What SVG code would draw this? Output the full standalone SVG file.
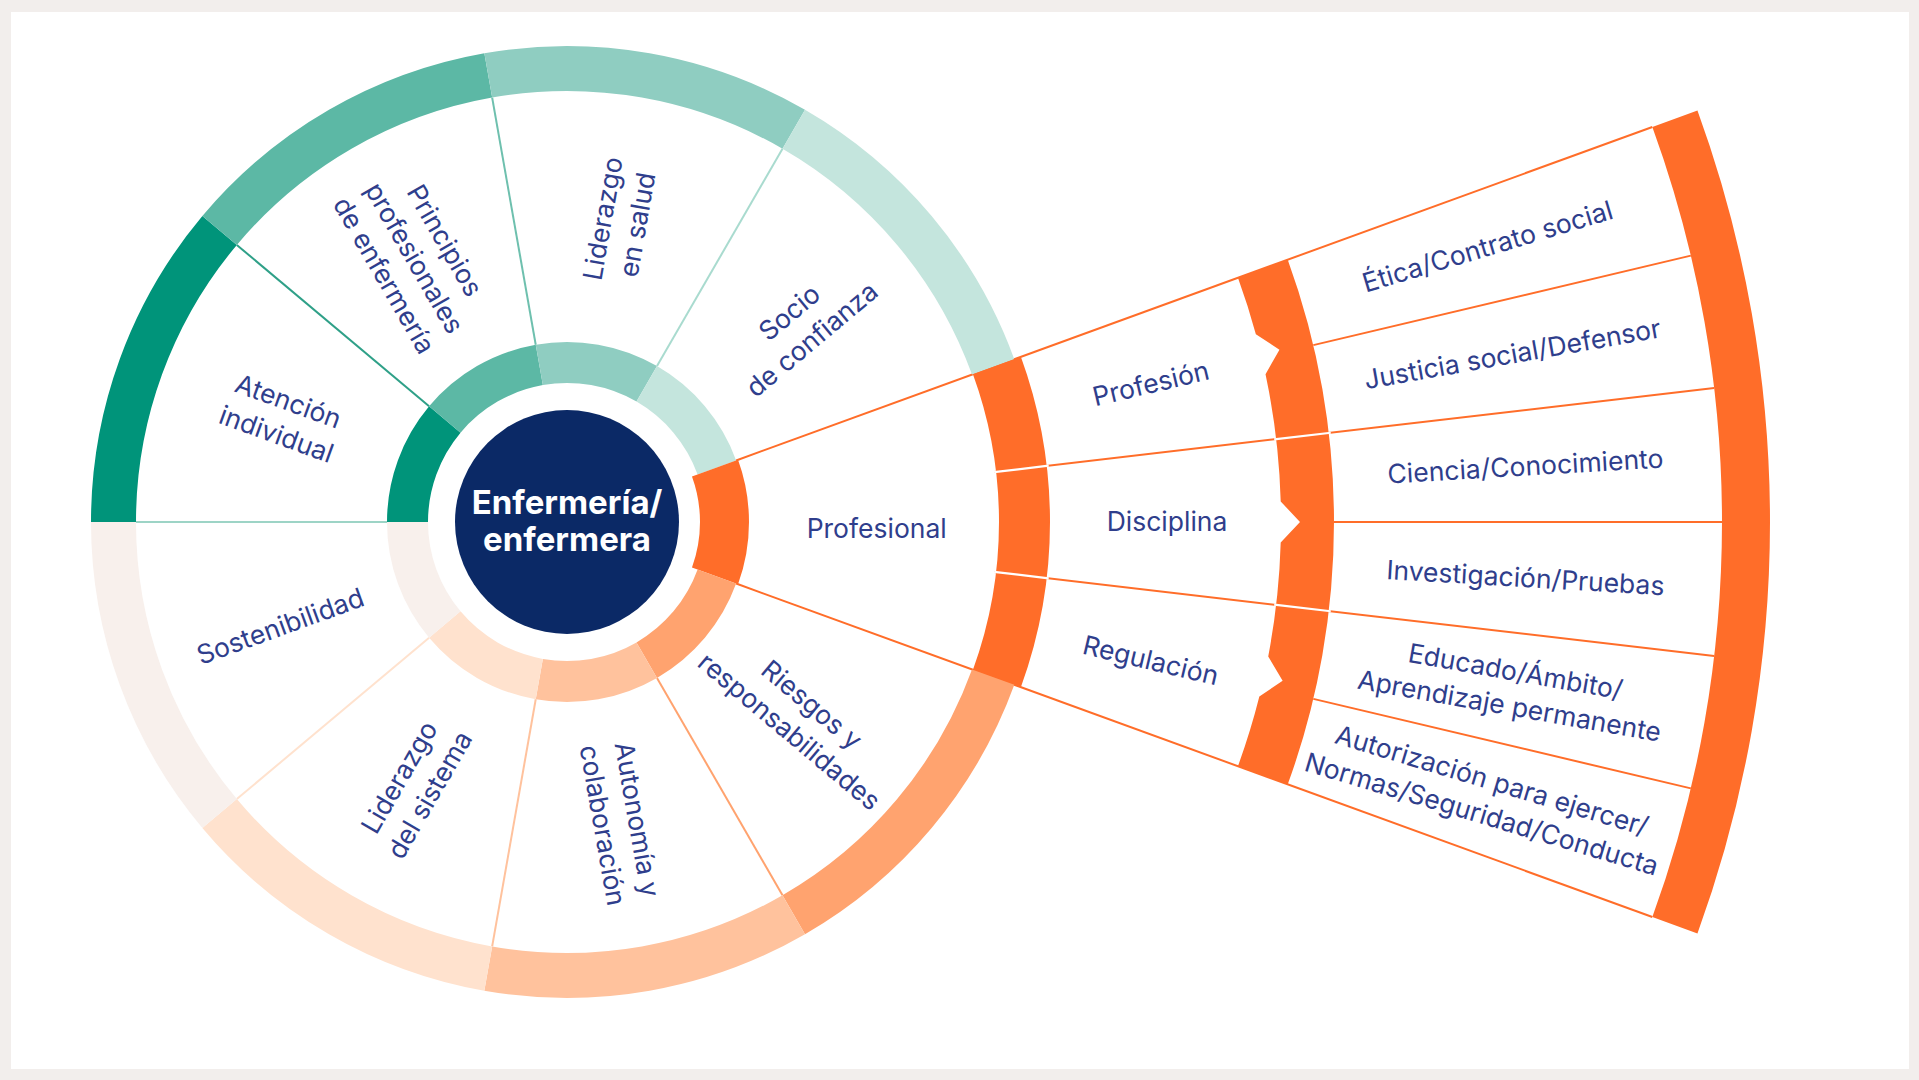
<svg xmlns="http://www.w3.org/2000/svg" width="1919" height="1080" viewBox="0 0 1919 1080">
<style>
.lbl{font-family:Inter,"Noto Sans","Liberation Sans",sans-serif;font-size:26.5px;fill:#2F3E8C;text-anchor:middle}
.ctr{font-family:Inter,"Noto Sans","Liberation Sans",sans-serif;font-size:33px;font-weight:700;fill:#FFFFFF;text-anchor:middle}
.ln{stroke-width:2;fill:none}
.gap{stroke:#FFFFFF;stroke-width:2.2;fill:none}
.or{fill:#FF6D29}
</style>
<rect x="0" y="0" width="1919" height="1080" fill="#F2EEEC"/>
<rect x="11" y="12" width="1898" height="1057" fill="#FFFFFF"/>

<g id="connectors">
<line class="ln" stroke="#FFA36F" x1="657" y1="677.88" x2="782.5" y2="895.26"/>
<line class="ln" stroke="#FFC29D" x1="535.74" y1="699.27" x2="492.16" y2="946.45"/>
<line class="ln" stroke="#FFE2CE" x1="429.11" y1="637.70" x2="236.84" y2="799.04"/>
<line class="ln" stroke="#9DD4C6" x1="387" y1="522" x2="136" y2="522"/>
<line class="ln" stroke="#2FA088" x1="429.11" y1="406.30" x2="236.84" y2="244.96"/>
<line class="ln" stroke="#6EC0AE" x1="535.74" y1="344.73" x2="492.16" y2="97.55"/>
<line class="ln" stroke="#A9DBCF" x1="657" y1="366.12" x2="782.5" y2="148.74"/>
<line class="ln" stroke="#FF6D29" x1="736.14" y1="460.44" x2="1652.34" y2="126.97"/>
<line class="ln" stroke="#FF6D29" x1="736.14" y1="583.56" x2="1652.34" y2="917.03"/>
<line class="ln" stroke="#FF6D29" x1="994.09" y1="472.08" x2="1714.19" y2="387.92"/>
<line class="ln" stroke="#FF6D29" x1="994.09" y1="571.92" x2="1714.19" y2="656.08"/>
<line class="ln" stroke="#FF6D29" x1="1313.32" y1="345.11" x2="1690.86" y2="255.63"/>
<line class="ln" stroke="#FF6D29" x1="1334" y1="522" x2="1722" y2="522"/>
<line class="ln" stroke="#FF6D29" x1="1313.32" y1="698.89" x2="1690.86" y2="788.37"/>
</g>

<g id="node-atencion">
<path fill="#00947A" d="M91 522 A476 476 0 0 1 202.36 216.03 L236.84 244.96 A431 431 0 0 0 136 522 Z"/>
<path fill="#00947A" d="M387 522 A180 180 0 0 1 429.11 406.30 L460.52 432.65 A139 139 0 0 0 428 522 Z"/>
<g transform="translate(282.4 417.7) rotate(20)"><text class="lbl"><tspan x="0" y="-8.2">Atención</tspan><tspan x="0" y="26.8">individual</tspan></text></g>
</g>

<g id="node-principios">
<path fill="#5CB8A5" d="M202.36 216.03 A476 476 0 0 1 484.34 53.23 L492.16 97.55 A431 431 0 0 0 236.84 244.96 Z"/>
<path fill="#5CB8A5" d="M429.11 406.30 A180 180 0 0 1 535.74 344.73 L542.86 385.11 A139 139 0 0 0 460.52 432.65 Z"/>
<g transform="translate(414.5 257.9) rotate(60)"><text class="lbl"><tspan x="0" y="-25.7">Principios</tspan><tspan x="0" y="9.3">profesionales</tspan><tspan x="0" y="44.3">de enfermería</tspan></text></g>
</g>

<g id="node-liderazgo-salud">
<path fill="#8FCDC1" d="M484.34 53.23 A476 476 0 0 1 805 109.77 L782.5 148.74 A431 431 0 0 0 492.16 97.55 Z"/>
<path fill="#8FCDC1" d="M535.74 344.73 A180 180 0 0 1 657 366.12 L636.5 401.62 A139 139 0 0 0 542.86 385.11 Z"/>
<g transform="translate(620 221.6) rotate(-80)"><text class="lbl"><tspan x="0" y="-8.2">Liderazgo</tspan><tspan x="0" y="26.8">en salud</tspan></text></g>
</g>

<g id="node-socio">
<path fill="#C4E5DD" d="M805 109.77 A476 476 0 0 1 1014.29 359.20 L972.01 374.59 A431 431 0 0 0 782.5 148.74 Z"/>
<path fill="#C4E5DD" d="M657 366.12 A180 180 0 0 1 736.14 460.44 L697.62 474.46 A139 139 0 0 0 636.5 401.62 Z"/>
<g transform="translate(800.6 326) rotate(-40)"><text class="lbl"><tspan x="0" y="-8.2">Socio</tspan><tspan x="0" y="26.8">de confianza</tspan></text></g>
</g>

<g id="node-profesional">
<path class="or" d="M1020.87 356.80 A483 483 0 0 1 1020.87 687.20 L972.95 669.75 A432 432 0 0 0 972.95 374.25 Z"/>
<path class="or" d="M738.02 459.75 A182 182 0 0 1 738.02 584.25 L691.98 567.49 A133 133 0 0 0 691.98 476.51 Z"/>
<line class="gap" x1="994.09" y1="472.08" x2="1048.72" y2="465.70"/>
<line class="gap" x1="994.09" y1="571.92" x2="1048.72" y2="578.30"/>
<text class="lbl" x="876.7" y="537.5">Profesional</text>
</g>

<g id="node-riesgos">
<path fill="#FFA36F" d="M1014.29 684.80 A476 476 0 0 1 805 934.23 L782.5 895.26 A431 431 0 0 0 972.01 669.41 Z"/>
<path fill="#FFA36F" d="M736.14 583.56 A180 180 0 0 1 657 677.88 L636.5 642.38 A139 139 0 0 0 697.62 569.54 Z"/>
<g transform="translate(800.6 718) rotate(40)"><text class="lbl"><tspan x="0" y="-8.2">Riesgos y</tspan><tspan x="0" y="26.8">responsabilidades</tspan></text></g>
</g>

<g id="node-autonomia">
<path fill="#FFC29D" d="M805 934.23 A476 476 0 0 1 484.34 990.77 L492.16 946.45 A431 431 0 0 0 782.5 895.26 Z"/>
<path fill="#FFC29D" d="M657 677.88 A180 180 0 0 1 535.74 699.27 L542.86 658.89 A139 139 0 0 0 636.5 642.38 Z"/>
<g transform="translate(620 822.4) rotate(80)"><text class="lbl"><tspan x="0" y="-8.2">Autonomía y</tspan><tspan x="0" y="26.8">colaboración</tspan></text></g>
</g>

<g id="node-liderazgo-sistema">
<path fill="#FFE2CE" d="M484.34 990.77 A476 476 0 0 1 202.36 827.97 L236.84 799.04 A431 431 0 0 0 492.16 946.45 Z"/>
<path fill="#FFE2CE" d="M535.74 699.27 A180 180 0 0 1 429.11 637.70 L460.52 611.35 A139 139 0 0 0 542.86 658.89 Z"/>
<g transform="translate(414.5 786.1) rotate(-60)"><text class="lbl"><tspan x="0" y="-8.2">Liderazgo</tspan><tspan x="0" y="26.8">del sistema</tspan></text></g>
</g>

<g id="node-sostenibilidad">
<path fill="#F8F0EC" d="M202.36 827.97 A476 476 0 0 1 91 522 L136 522 A431 431 0 0 0 236.84 799.04 Z"/>
<path fill="#F8F0EC" d="M429.11 637.70 A180 180 0 0 1 387 522 L428 522 A139 139 0 0 0 460.52 611.35 Z"/>
<g transform="translate(280.4 626.3) rotate(-20)"><text class="lbl" x="0" y="9.3">Sostenibilidad</text></g>
</g>

<g id="node-center">
<circle cx="567" cy="522" r="112" fill="#0B2966"/>
<text class="ctr" x="567" y="514">Enfermería/</text>
<text class="ctr" x="567" y="551">enfermera</text>
</g>

<g id="node-band-middle">
<path class="or" d="M1287.74 259.67 A767 767 0 0 1 1287.74 784.33 L1237.94 766.20 A714 714 0 0 0 1259.34 696.54 L1282.63 680.65 L1268.23 656.40 A714 714 0 0 0 1280.71 542.56 L1300 522 L1280.71 501.44 A714 714 0 0 0 1265.53 374.16 L1279.45 349.64 L1255.86 334.20 A714 714 0 0 0 1237.94 277.80 Z"/>
<line class="gap" x1="1274.19" y1="439.34" x2="1330.80" y2="432.73"/>
<line class="gap" x1="1274.19" y1="604.66" x2="1330.80" y2="611.27"/>
</g>

<g id="node-band-outer">
<path class="or" d="M1697.45 110.55 A1203 1203 0 0 1 1697.45 933.45 L1652.34 917.03 A1155 1155 0 0 0 1652.34 126.97 Z"/>
</g>

<g id="node-profesion"><g transform="translate(1150.8 383.6) rotate(-13.333)"><text class="lbl" x="0" y="9.3">Profesión</text></g></g>
<g id="node-disciplina"><text class="lbl" x="1167" y="531.3">Disciplina</text></g>
<g id="node-regulacion"><g transform="translate(1150.8 660.4) rotate(13.333)"><text class="lbl" x="0" y="9.3">Regulación</text></g></g>

<g id="node-etica"><g transform="translate(1487.5 246.5) rotate(-16.667)"><text class="lbl" x="0" y="9.3">Ética/Contrato social</text></g></g>
<g id="node-justicia"><g transform="translate(1512.4 354) rotate(-10)"><text class="lbl" x="0" y="9.3">Justicia social/Defensor</text></g></g>
<g id="node-ciencia"><g transform="translate(1525.4 466.2) rotate(-3.333)"><text class="lbl" x="0" y="9.3">Ciencia/Conocimiento</text></g></g>
<g id="node-investigacion"><g transform="translate(1525.4 577.8) rotate(3.333)"><text class="lbl" x="0" y="9.3">Investigación/Pruebas</text></g></g>
<g id="node-educado"><g transform="translate(1512.4 688.7) rotate(10)"><text class="lbl"><tspan x="0" y="-8.2">Educado/Ámbito/</tspan><tspan x="0" y="26.8">Aprendizaje permanente</tspan></text></g></g>
<g id="node-autorizacion"><g transform="translate(1486.7 797.3) rotate(16.667)"><text class="lbl"><tspan x="0" y="-8.2">Autorización para ejercer/</tspan><tspan x="0" y="26.8">Normas/Seguridad/Conducta</tspan></text></g></g>
</svg>
